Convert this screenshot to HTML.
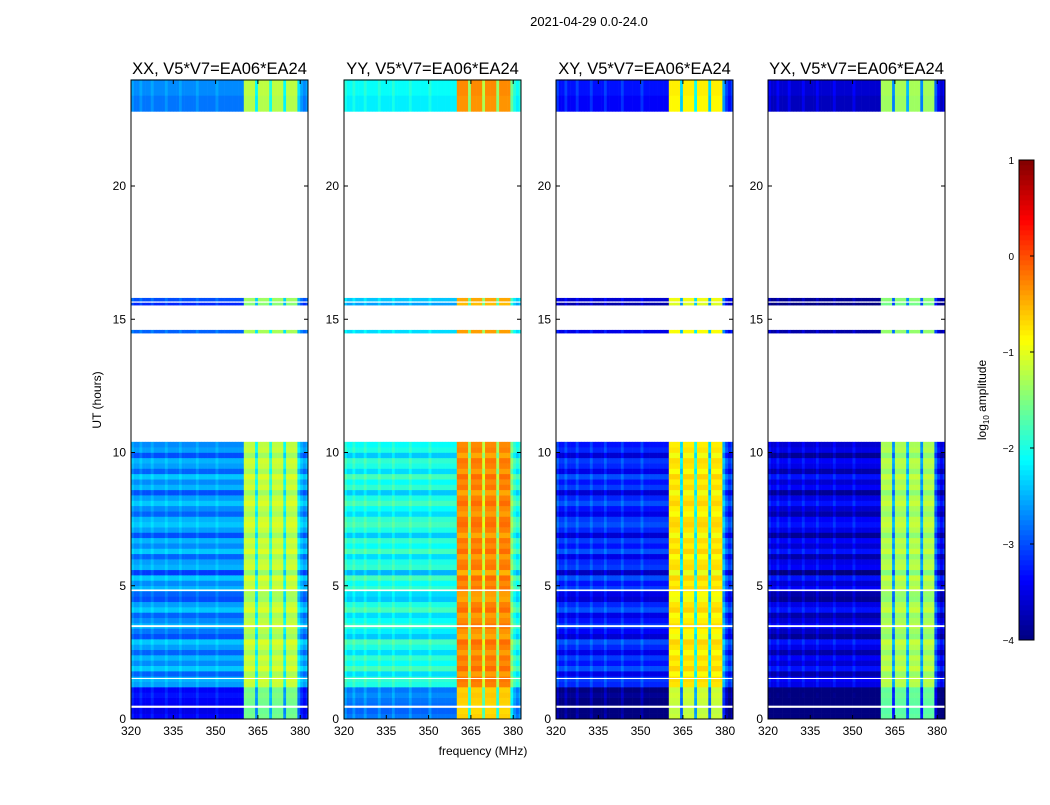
<!DOCTYPE html>
<html><head><meta charset="utf-8"><style>
body{margin:0;background:#fff;font-family:"Liberation Sans",sans-serif;}
#wrap{position:relative;width:1050px;height:800px;}
svg text{font-family:"Liberation Sans",sans-serif;}
</style></head><body>
<div id="wrap">
<svg id="fig" width="1050" height="800"></svg>
</div>
<script>
const panelTitles=["XX, V5*V7=EA06*EA24","YY, V5*V7=EA06*EA24","XY, V5*V7=EA06*EA24","YX, V5*V7=EA06*EA24"];
const panelLeft=[131,344,556,768];
const xTicks=[320,335,350,365,380];
const yTicks=[0,5,10,15,20];
const cbTicks=[1,0,-1,-2,-3,-4];
const bgLevel=[-2.7,-2.1,-3.3,-3.6];
const bandLevel=[-1.2,-0.3,-0.8,-1.3];
// row offsets for 0.2 h rows from 0 to 10.4 h
const rowOff=[-0.7,-0.8,-0.75,-0.7,-0.6,-0.7,0.1,0.2,-0.2,0.3,0.0,0.2,-0.2,0.1,0.3,-0.3,-0.1,0.2,0.0,-0.2,0.3,0.1,-0.3,-0.2,0.2,0.0,0.3,-0.4,0.2,0.1,-0.2,0.3,0.0,0.2,-0.3,0.1,0.3,0.2,-0.2,0.0,0.3,0.1,-0.3,0.2,0.0,0.3,-0.2,0.1,0.2,-0.3,0.1,0.0];
// flagged thin gaps [start,end] hours
const gaps=[[0.42,0.5],[3.45,3.52],[4.8,4.86],[1.5,1.54]];
// extra segments [start,end,offset]
const extraSegs=[[14.48,14.6,-0.2],[15.53,15.62,-0.5],[15.68,15.8,-0.3],[22.8,23.4,-0.1],[23.4,24,0.0]];
// frequency column profile, 1 MHz columns 320..382 (0 = background, 1 = band)
const colProfile=[0.1,0,0,0.1,0,0,0,0.1,0,0,0,0,0.1,0,0,0,0,0.1,0,0,0,0,0,0.1,0,0,0,0,0,0,0.1,0,0,0,0,0,0,0,0,0,
1,1,1,1,0.4,1,1,1,1,0.5,1,1,1,1,0.4,1,1,1,1,0.3,0.1,0,0.1];

const NS="http://www.w3.org/2000/svg";
const svg=document.getElementById('fig');
function mk(tag,attrs,parent){const e=document.createElementNS(NS,tag);for(const k in attrs)e.setAttribute(k,attrs[k]);(parent||svg).appendChild(e);return e;}
const y0=719,pxH=26.65,pxF=2.82,pw=177;
const yS=h=>y0-h*pxH;
function jet(v){let t=(v+4)/5;t=Math.max(0,Math.min(1,t));
 const c=x=>Math.round(255*Math.max(0,Math.min(1,1.5-Math.abs(x))));
 return `rgb(${c(4*t-3)},${c(4*t-2)},${c(4*t-1)})`;}

let t=mk('text',{x:589,y:26,'font-size':13,'text-anchor':'middle'});t.textContent="2021-04-29 0.0-24.0";


panelTitles.forEach((title,p)=>{
 const L=panelLeft[p];const xS=f=>L+(f-320)*pxF;
 const g=mk('g',{});
 
 
 const cell=(h0,h1,off)=>{
  colProfile.forEach((c,i)=>{
   const bg=bgLevel[p]+off, bd=bandLevel[p]+off*0.5;
   const v=bg+c*(bd-bg);
   const x1=xS(320+i),x2=Math.min(xS(321+i),L+pw);
   if(x2<=x1)return;
   const r=mk('rect',{x:x1,y:yS(h1),width:x2-x1+0.3,height:yS(h0)-yS(h1)+0.3,fill:jet(v)},g);
   
   
  });
 };
 rowOff.forEach((o,i)=>{cell(i*0.2,(i+1)*0.2,o);});
 extraSegs.forEach(s=>cell(s[0],s[1],s[2]));
 gaps.forEach(s=>{const r=mk('rect',{x:L,y:yS(s[1]),width:pw,height:yS(s[0])-yS(s[1]),fill:'#fff'},g);
  });
 const fr=mk('rect',{x:L,y:80,width:pw,height:639,fill:'none',stroke:'#000','stroke-width':1},g);
 
 const tt=mk('text',{x:L+pw/2,y:74,'font-size':16.5,'text-anchor':'middle'},g);tt.textContent=title;
 
 xTicks.forEach(f=>{const x=xS(f);
  mk('line',{x1:x,x2:x,y1:719,y2:715,stroke:'#000'},g);mk('line',{x1:x,x2:x,y1:80,y2:84,stroke:'#000'},g);
  const lt=mk('text',{x:x,y:735,'font-size':12,'text-anchor':'middle'},g);lt.textContent=f;
  });
 yTicks.forEach(h=>{const y=yS(h);
  mk('line',{x1:L,x2:L+4,y1:y,y2:y,stroke:'#000'},g);mk('line',{x1:L+pw-4,x2:L+pw,y1:y,y2:y,stroke:'#000'},g);
  const lt=mk('text',{x:L-5,y:y+4,'font-size':12,'text-anchor':'end'},g);lt.textContent=h;
  });
});
t=mk('text',{x:483,y:755,'font-size':12,'text-anchor':'middle'});t.textContent="frequency (MHz)";

t=mk('text',{x:0,y:0,'font-size':12,'text-anchor':'middle',transform:'translate(101,400) rotate(-90)'});t.textContent="UT (hours)";

// colorbar
const cb=mk('g',{});
const cbS=v=>640-(v+4)*96;
for(let i=0;i<96;i++){const v=-4+i*5/96;mk('rect',{x:1019,y:cbS(v+5/96),width:15,height:5.3,fill:jet(v+2.5/96)},cb);}
mk('rect',{x:1019,y:160,width:15,height:480,fill:'none',stroke:'#000'},cb);
cbTicks.forEach(v=>{const y=cbS(v);mk('line',{x1:1030,x2:1034,y1:y,y2:y,stroke:'#000'},cb);
 const lt=mk('text',{x:1014,y:y+4,'font-size':10,'text-anchor':'end'},cb);lt.textContent=v<0?'\u2212'+(-v):v;
 });
t=mk('text',{x:0,y:0,'font-size':12,'text-anchor':'middle',transform:'translate(986,400) rotate(-90)'});
t.innerHTML='log<tspan font-size="8" dy="3">10</tspan><tspan dy="-3"> amplitude</tspan>';

</script>
</body></html>
